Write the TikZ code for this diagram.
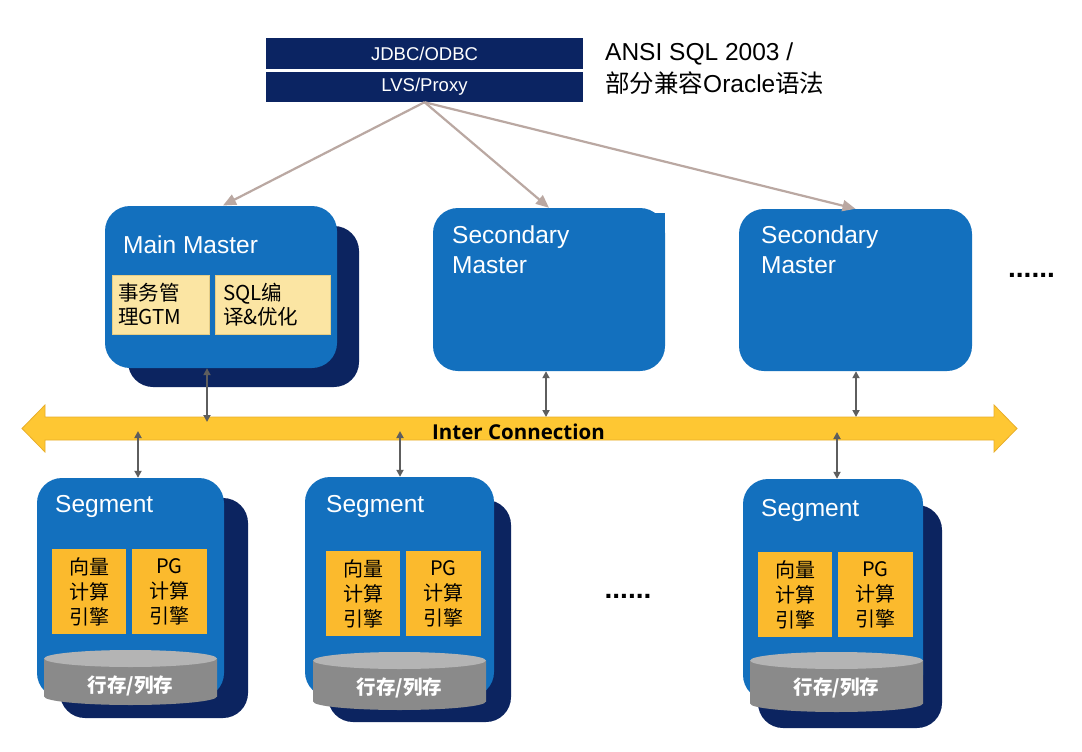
\documentclass[tikz,border=0pt]{standalone}
\usepackage{fontspec}
\setmainfont{Liberation Sans}
\newfontfamily\cjk{Noto Sans CJK SC}
\newfontfamily\icfont{Open Sans}
\usetikzlibrary{arrows.meta}
\definecolor{mblue}{HTML}{1370BE}
\definecolor{mnavy}{HTML}{0C2460}
\definecolor{topnavy}{HTML}{0B2462}
\definecolor{segin}{HTML}{FBBA2D}
\definecolor{mmin}{HTML}{FBE5A3}
\definecolor{mminb}{HTML}{E6CD86}
\definecolor{barfill}{HTML}{FEC733}
\definecolor{barline}{HTML}{E9AE2A}
\definecolor{taupe}{HTML}{BAA8A2}
\definecolor{dgray}{HTML}{5E5E5E}
\definecolor{cylbody}{HTML}{8A8A8A}
\definecolor{cyltop}{HTML}{B4B4B4}
\tikzset{
  bluebox/.style={fill=mblue, draw=none, rounded corners=25pt, inner sep=0pt},
  shadowbox/.style={fill=mnavy, draw=none, rounded corners=25pt, inner sep=0pt},
  topbox/.style={fill=topnavy, draw=none, inner sep=0pt, minimum width=317pt, text=white, font=\fontsize{18.5}{21}\selectfont},
  mminner/.style={fill=mmin, draw=mminb, line width=0.8pt, minimum height=59pt, align=left, inner xsep=6pt, font=\cjk\fontsize{20.5}{24}\selectfont},
  seginner/.style={fill=segin, draw=none, minimum width=74pt, minimum height=85pt, align=center, inner sep=0pt, font=\cjk\fontsize{20}{25}\selectfont},
  boxlabel/.style={text=white, anchor=north west, inner sep=0pt, align=left, font=\fontsize{24.5}{30}\selectfont},
  cyltext/.style={text=white, inner sep=0pt, font=\cjk\bfseries\fontsize{19.5}{22}\selectfont},
  toparrow/.style={draw=taupe, line width=2.2pt, -{Triangle[length=13pt,width=11pt]}, fill=taupe},
  dbl/.style={draw=dgray, line width=1.8pt, {Triangle[length=7pt,width=7pt]}-{Triangle[length=7pt,width=7pt]}},
  dots/.style={inner sep=0pt, anchor=base, font=\bfseries\fontsize{28}{30}\selectfont}
}
\begin{document}
\begin{tikzpicture}[x=1pt,y=-1pt]
\useasboundingbox[fill=white] (0,0) rectangle (1082,752);

% top boxes
\node[topbox, minimum height=31pt] (jdbc) at (424.5,53.5) {JDBC/ODBC};
\node[topbox, minimum height=30pt] (lvs) at (424.5,87) {LVS/Proxy};
\node[anchor=north west, inner sep=0pt, align=left, font=\fontsize{24.5}{32}\selectfont] (ansi) at (605,43)
  {ANSI SQL 2003 /\\{\cjk 部分兼容}Oracle{\cjk 语法}};

% main master
\node[shadowbox, minimum width=231pt, minimum height=161pt] (mms) at (243.5,306.5) {};
\node[bluebox, minimum width=232pt, minimum height=162pt] (mm) at (221,287) {};
\node[boxlabel] (mmlabel) at (123,235.5) {Main Master};
\node[mminner, minimum width=97pt, text width=85pt] (mmi1) at (160.5,304.5) {事务管\\理GTM};
\node[mminner, minimum width=115pt, text width=99pt, inner xsep=8pt] (mmi2) at (272.5,304.5) {SQL编\\译\&优化};

% secondary masters
\node[bluebox, minimum width=232pt, minimum height=163pt] (sm1) at (549,289.5) {};
\fill[mblue] (640,213) rectangle (665,250);
\node[boxlabel] (sm1label) at (452,225.5) {Secondary\\Master};
\node[bluebox, minimum width=233pt, minimum height=162pt] (sm2) at (855.5,290) {};
\node[boxlabel] (sm2label) at (761,225.5) {Secondary\\Master};
\node[dots] (dotsR) at (1031.5,277) {......};

% top arrows
\draw[toparrow] (lvs.south) -- (223,205.5);
\draw[toparrow] (lvs.south) -- (sm1.north);
\draw[toparrow] (lvs.south) -- (sm2.north);

% inter connection bar
\draw[fill=barfill, draw=barline, line width=0.8pt]
  (22,428.5) -- (45,405) -- (45,417) -- (994,417) -- (994,405) -- (1017,428.5)
  -- (994,452) -- (994,440) -- (45,440) -- (45,452) -- cycle;
\node[anchor=base west, inner sep=0pt, font=\icfont\bfseries\fontsize{20.5}{22}\selectfont] (ic) at (432,439.5) {Inter Connection};
\coordinate (bmm) at (207,422);
\coordinate (bsm1) at (546,417);
\coordinate (bsm2) at (856,417);
\coordinate (bsg1) at (138,431);
\coordinate (bsg2) at (400,431);
\coordinate (bsg3) at (837,432);

% segments
\node[shadowbox, minimum width=188pt, minimum height=220pt] (sg1s) at (154,608) {};
\node[bluebox, minimum width=187pt, minimum height=220pt] (sg1) at (130.5,588) {};
\node[boxlabel] (sg1label) at (55,495) {Segment};
\node[seginner] (sg1a) at (89,591.5) {向量\\计算\\引擎};
\node[seginner, minimum width=75pt] (sg1b) at (169.5,591.5) {PG\\计算\\引擎};
\fill[cylbody] (44,658.5) -- (44,696.5) arc[start angle=180, end angle=0, x radius=86.5, y radius=8.5] -- (217,658.5) -- cycle;
\fill[cyltop] (130.5,658.5) ellipse[x radius=86.5, y radius=8.5];
\node[cyltext] (cyl1) at (130.5,685.5) {行存/列存};

\node[shadowbox, minimum width=183pt, minimum height=222pt] (sg2s) at (419.5,611) {};
\node[bluebox, minimum width=189pt, minimum height=220pt] (sg2) at (399.5,587) {};
\node[boxlabel] (sg2label) at (326,495) {Segment};
\node[seginner] (sg2a) at (363,593.5) {向量\\计算\\引擎};
\node[seginner, minimum width=75pt] (sg2b) at (443.5,593.5) {PG\\计算\\引擎};
\fill[cylbody] (313,660.5) -- (313,701.5) arc[start angle=180, end angle=0, x radius=86.5, y radius=8.5] -- (486,660.5) -- cycle;
\fill[cyltop] (399.5,660.5) ellipse[x radius=86.5, y radius=8.5];
\node[cyltext] (cyl2) at (399.5,688) {行存/列存};

\node[dots] (dotsM) at (628,598) {......};

\node[shadowbox, minimum width=184pt, minimum height=223pt] (sg3s) at (850,616.5) {};
\node[bluebox, minimum width=180pt, minimum height=221pt] (sg3) at (833,589.5) {};
\node[boxlabel] (sg3label) at (761,499) {Segment};
\node[seginner] (sg3a) at (795,594.5) {向量\\计算\\引擎};
\node[seginner, minimum width=75pt] (sg3b) at (875.5,594.5) {PG\\计算\\引擎};
\fill[cylbody] (750,660.5) -- (750,703.5) arc[start angle=180, end angle=0, x radius=86.5, y radius=8.5] -- (923,660.5) -- cycle;
\fill[cyltop] (836.5,660.5) ellipse[x radius=86.5, y radius=8.5];
\node[cyltext] (cyl3) at (836.5,688) {行存/列存};

% vertical double arrows
\draw[dbl] (bmm |- mm.south) -- (bmm);
\draw[dbl] (bsm1 |- sm1.south) -- (bsm1);
\draw[dbl] (bsm2 |- sm2.south) -- (bsm2);
\draw[dbl] (bsg1) -- (bsg1 |- sg1.north);
\draw[dbl] (bsg2) -- (bsg2 |- sg2.north);
\draw[dbl] (bsg3) -- (bsg3 |- sg3.north);
\end{tikzpicture}
\end{document}
